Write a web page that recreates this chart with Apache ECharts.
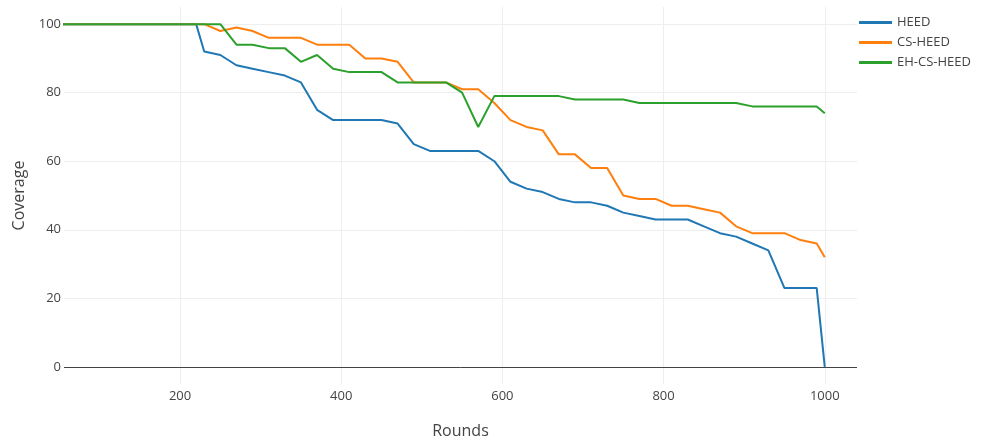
<!DOCTYPE html>
<html>
<head>
<meta charset="utf-8">
<script src="https://cdn.jsdelivr.net/npm/echarts@6/dist/echarts.min.js"></script>
<style>
html,body{margin:0;padding:0;background:#fff;}
#chart{width:982px;height:440px;}
</style>
</head>
<body>
<div id="chart"></div>
<script>
const rounds = [50,70,90,110,130,150,170,190,210,220,230,250,270,290,310,330,350,370,390,410,430,450,470,490,510,530,550,570,590,610,630,650,670,690,710,730,750,770,790,810,830,850,870,890,910,930,950,970,990,1000];
const heed = [100,100,100,100,100,100,100,100,100,100,92,91,88,87,86,85,83,75,72,72,72,72,71,65,63,63,63,63,60,54,52,51,49,48,48,47,45,44,43,43,43,41,39,38,36,34,23,23,23,0];
const csHeed = [100,100,100,100,100,100,100,100,100,100,100,98,99,98,96,96,96,94,94,94,90,90,89,83,83,83,81,81,77,72,70,69,62,62,58,58,50,49,49,47,47,46,45,41,39,39,39,37,36,32];
const ehCsHeed = [100,100,100,100,100,100,100,100,100,100,100,100,94,94,93,93,89,91,87,86,86,86,83,83,83,83,80,70,79,79,79,79,79,78,78,78,78,77,77,77,77,77,77,77,76,76,76,76,76,74];
const seriesNames = ['HEED','CS-HEED','EH-CS-HEED'];
const xTicks = [200,400,600,800,1000];
const yTicks = [0,20,40,60,80,100];

const colors = ['#1f77b4','#ff7f0e','#2ca02c'];
const font = '"Open Sans", "Noto Sans", sans-serif';
const pair = arr => rounds.map((r,i)=>[r,arr[i]]);

const chart = echarts.init(document.getElementById('chart'), null, {renderer:'canvas'});
chart.setOption({
  animation:false,
  backgroundColor:'#fff',
  color:colors,
  textStyle:{fontFamily:font},
  grid:{left:64,right:125,top:7,bottom:56,containLabel:false,outerBoundsMode:'none'},
  legend:{
    orient:'vertical',left:854,top:11,
    icon:'rect',itemWidth:33,itemHeight:3,itemGap:7,
    textStyle:{fontFamily:font,fontSize:13,color:'#444'},
    data:seriesNames
  },
  xAxis:{
    type:'value',min:56,max:1040,
    name:'Rounds',nameLocation:'middle',nameGap:39,
    nameTextStyle:{fontFamily:font,fontSize:16,color:'#444'},
    axisLine:{show:false},
    axisTick:{show:false,customValues:xTicks},
    axisLabel:{customValues:xTicks,margin:6,fontFamily:font,fontSize:13,color:'#444',formatter:v=>String(v)},
    splitLine:{show:true,lineStyle:{color:'#eee',width:1}}
  },
  yAxis:{
    type:'value',min:-5,max:105,
    name:'Coverage',nameLocation:'middle',nameGap:36,
    nameTextStyle:{fontFamily:font,fontSize:16,color:'#444'},
    axisLine:{show:false},
    axisTick:{show:false,customValues:yTicks},
    axisLabel:{customValues:yTicks,margin:3,fontFamily:font,fontSize:13,color:'#444',formatter:v=>String(v)},
    splitLine:{show:true,lineStyle:{color:'#eee',width:1}}
  },
  series:[
    {name:seriesNames[0],type:'line',data:pair(heed),showSymbol:false,symbol:'none',clip:true,lineStyle:{width:2,color:colors[0]},itemStyle:{color:colors[0]},z:3,
     markLine:{silent:true,symbol:'none',label:{show:false},lineStyle:{color:'#444',width:1,type:'solid'},data:[{yAxis:0}],z:1}},
    {name:seriesNames[1],type:'line',data:pair(csHeed),showSymbol:false,symbol:'none',clip:true,lineStyle:{width:2,color:colors[1]},itemStyle:{color:colors[1]},z:4},
    {name:seriesNames[2],type:'line',data:pair(ehCsHeed),showSymbol:false,symbol:'none',clip:true,lineStyle:{width:2,color:colors[2]},itemStyle:{color:colors[2]},z:5}
  ]
});
</script>
</body>
</html>
